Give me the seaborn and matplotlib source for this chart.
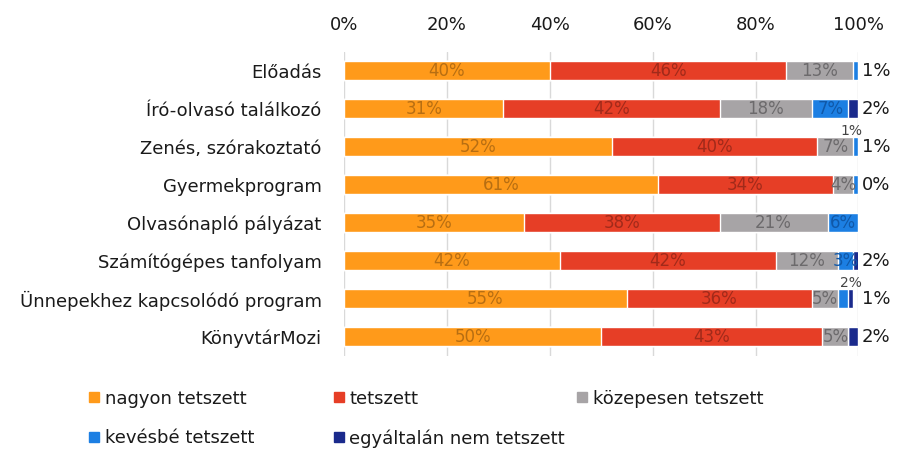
import numpy as np
import pandas as pd
import matplotlib
matplotlib.use('Agg')
import matplotlib.pyplot as plt
from matplotlib.lines import Line2D
import seaborn as sns

# data (percent)
categories = ['Előadás', 'Író-olvasó találkozó', 'Zenés, szórakoztató', 'Gyermekprogram',
              'Olvasónapló pályázat', 'Számítógépes tanfolyam',
              'Ünnepekhez kapcsolódó program', 'KönyvtárMozi']
series_names = ['nagyon tetszett', 'tetszett', 'közepesen tetszett',
                'kevésbé tetszett', 'egyáltalán nem tetszett']
nagyon = [40, 31, 52, 61, 35, 42, 55, 50]
tetszett = [46, 42, 40, 34, 38, 42, 36, 43]
kozepesen = [13, 18, 7, 4, 21, 12, 5, 5]
kevesbe = [1, 7, 1, 1, 6, 3, 2, 0]
egyaltalan = [0, 2, 1, 0, 0, 2, 1, 2]
# labels printed to the right of each bar ('' = none)
right_labels = ['1%', '2%', '1%', '0%', '', '2%', '1%', '2%']
# labels of tiny blue segments lifted above the bar
above_labels = ['', '', '1%', '', '', '', '2%', '']

colors = ['#FF9A1A', '#E63E26', '#A7A4A6', '#1C7FE3', '#1A2A8C']
text_colors = ['#B76E12', '#A12A1A', '#6C6A6C', '#1058A8', '#101A60']

values = [nagyon, tetszett, kozepesen, kevesbe, egyaltalan]
df = pd.DataFrame({'cat': categories})
for name, vals in zip(series_names, values):
    df[name] = vals

sns.set_style('white')
plt.rcParams['font.family'] = ['DejaVu Sans']

fig = plt.figure(figsize=(8.98, 4.54), dpi=100)
ax = fig.add_axes([0.383, 0.216, 0.573, 0.670])

# stacked bars: draw cumulative totals, biggest first
cum = df[series_names].cumsum(axis=1)
for i in range(len(series_names) - 1, -1, -1):
    sns.barplot(x=cum[series_names[i]], y=df['cat'], orient='h', color=colors[i],
                width=0.5, ax=ax, saturation=1, zorder=3)

# labels inside segments
for j, cat in enumerate(categories):
    left = 0
    for i, name in enumerate(series_names):
        v = df.loc[j, name]
        if i < 4 and v >= 3:
            ax.text(left + v / 2, j, f'{v}%', ha='center', va='center',
                    fontsize=12, color=text_colors[i], zorder=5)
        left += v
    if right_labels[j]:
        ax.text(100.7, j, right_labels[j], ha='left', va='center', fontsize=13,
                color='#1a1a1a', clip_on=False)
    if above_labels[j]:
        ax.text(98.6, j - 0.42, above_labels[j], ha='center', va='center',
                fontsize=10, color='#444444', zorder=6, clip_on=False)

ax.set_xlim(0, 100)
ax.set_ylim(7.5, -0.5)
ax.set_xticks([0, 20, 40, 60, 80, 100])
ax.set_xticklabels(['0%', '20%', '40%', '60%', '80%', '100%'])
ax.xaxis.tick_top()
ax.tick_params(axis='x', length=0, pad=13, labelsize=13, labelcolor='#1a1a1a')
ax.tick_params(axis='y', length=0, pad=16, labelsize=13, labelcolor='#1a1a1a')
ax.set_xlabel('')
ax.set_ylabel('')
ax.grid(axis='x', color='#D9D9D9', linewidth=1, zorder=0)
for s in ax.spines.values():
    s.set_visible(False)

# legend in a fixed grid, one legend per column
cols = [(0.099, [0, 3]), (0.371, [1, 4]), (0.642, [2])]
for x0, idx in cols:
    handles = [Line2D([], [], marker='s', linestyle='', markersize=7.5,
                      color=colors[k]) for k in idx]
    leg = fig.legend(handles, [series_names[k] for k in idx], loc='upper left',
                     bbox_to_anchor=(x0, 0.142), frameon=False, fontsize=13,
                     handlelength=0.6, handletextpad=0.3, labelspacing=1.2,
                     borderaxespad=0, borderpad=0)
    for t in leg.get_texts():
        t.set_color('#1a1a1a')

fig.savefig('out.png', dpi=100, facecolor='white')
